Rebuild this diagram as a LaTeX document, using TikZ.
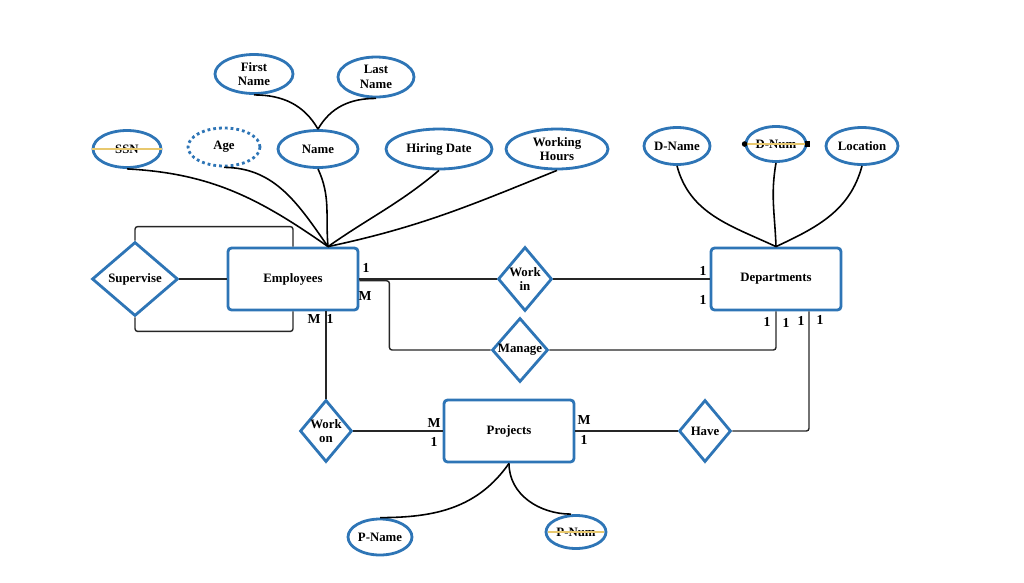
\documentclass[tikz,border=0pt]{standalone}
\usepackage{fontspec}
\setmainfont{Liberation Serif}
\usepackage{tikz}
\usetikzlibrary{shapes.geometric}

\definecolor{erblue}{RGB}{46,117,182}
\definecolor{keyline}{RGB}{232,200,110}
\newcommand{\erfont}{\bfseries\fontsize{7.3}{8.3}\selectfont}

\tikzset{
    attr/.style 2 args={ellipse, draw=erblue, line width=1.6pt, inner sep=0pt,
        minimum width=#1, minimum height=#2, align=center, font=\erfont},
    entity/.style={rectangle, draw=erblue, line width=1.6pt, rounded corners=2pt,
        minimum width=2.6cm, minimum height=1.24cm, font=\erfont},
    rel/.style 2 args={diamond, draw=erblue, line width=1.6pt, inner sep=0pt,
        minimum width=#1, minimum height=#2},
    rellabel/.style={align=center, font=\erfont, inner sep=0pt},
    card/.style={font=\erfont\fontsize{7.8}{9}\selectfont, inner sep=0pt},
    link/.style={draw=black!85, line width=0.8pt, rounded corners=1.5pt},
    attrlink/.style={draw=black, line width=0.9pt},
    keystrike/.style={draw=keyline, line width=0.9pt},
}

\begin{document}
\begin{tikzpicture}[x=0.02cm, y=-0.02cm]
    \useasboundingbox (0,0) rectangle (1024,582);

    % entities
    \node[entity] (emp) at (293, 279) {Employees};
    \node[entity] (dept) at (776, 279) {Departments};
    \node[entity] (proj) at (509, 431) {Projects};

    % relationships
    \node[rel={1.72cm}{1.48cm}, label={[rellabel]center:Supervise}] (sup) at (135, 279) {};
    \node[rel={1.08cm}{1.28cm}, label={[rellabel]center:Work\\in}] (workin) at (525, 279) {};
    \node[rel={1.12cm}{1.28cm}, label={[rellabel]center:Manage}] (manage) at (520, 350) {};
    \node[rel={1.04cm}{1.24cm}, label={[rellabel]center:Work\\on}] (workon) at (326, 431) {};
    \node[rel={1.04cm}{1.24cm}, label={[rellabel]center:Have}] (have) at (705, 431) {};

    % attributes of Employees
    \node[attr={1.56cm}{0.78cm}] (fname) at (254, 74) {First\\Name};
    \node[attr={1.52cm}{0.8cm}] (lname) at (376, 77) {Last\\Name};
    \node[attr={1.36cm}{0.74cm}] (ssn) at (127, 149) {SSN};
    \node[attr={1.44cm}{0.76cm}, draw=none] (age) at (224, 147) {Age};
    \node[attr={1.6cm}{0.74cm}] (name) at (318, 149) {Name};
    \node[attr={2.12cm}{0.8cm}] (hdate) at (439, 149) {Hiring Date};
    \node[attr={2.04cm}{0.8cm}] (whours) at (557, 149) {Working\\Hours};
    \draw[erblue, line width=1.6pt, dash pattern=on 1.6pt off 1.7pt]
        (age.center) ellipse [x radius=0.72cm, y radius=0.38cm];

    % attributes of Departments
    \node[attr={1.32cm}{0.74cm}] (dname) at (677, 146) {D-Name};
    \node[attr={1.2cm}{0.7cm}] (dnum) at (776, 144) {D-Num};
    \node[attr={1.44cm}{0.74cm}] (loc) at (862, 146) {Location};

    % attributes of Projects
    \node[attr={1.28cm}{0.72cm}] (pname) at (380, 537) {P-Name};
    \node[attr={1.2cm}{0.66cm}] (pnum) at (576, 532) {P-Num};

    % key marks
    \draw[keystrike] (ssn.west) -- (ssn.east);
    \draw[keystrike] (dnum.west) -- (dnum.east);
    \fill[black] (dnum.west) circle (1.6pt);
    \fill[black] ([xshift=-1.5pt, yshift=-1.5pt]dnum.east) rectangle ++(3pt, 3pt);
    \draw[keystrike] ([xshift=2pt]pnum.west) -- ([xshift=-2pt]pnum.east);

    % attribute links
    \coordinate (emptop) at ([xshift=0.7cm]emp.north);
    \draw[attrlink] (ssn.south) to[out=-3, in=145] (emptop);
    \draw[attrlink] (age.south) to[out=0, in=125] (emptop);
    \draw[attrlink] (name.south) to[out=-65, in=95] (emptop);
    \draw[attrlink] (hdate.south) to[out=-140, in=35] (emptop);
    \draw[attrlink] (whours.south) to[out=-158, in=12] (emptop);
    \draw[attrlink] (fname.south) to[out=0, in=120] (name.north);
    \draw[attrlink] (lname.south) to[out=180, in=60] (name.north);
    \draw[attrlink] (dname.south) to[out=-75, in=155] (dept.north);
    \draw[attrlink] (dnum.south) to[out=-100, in=92] (dept.north);
    \draw[attrlink] (loc.south) to[out=-105, in=25] (dept.north);
    \draw[attrlink] (proj.south) to[out=-125, in=0] (pname.north);
    \draw[attrlink] (proj.south) to[out=-90, in=180] ([xshift=-0.1cm]pnum.north);

    % relationship links
    \draw[link] (sup.north) |- ([yshift=0.4cm]emp.north) -- (emp.north);
    \draw[link] (sup.south) |- ([yshift=-0.4cm]emp.south) -- (emp.south);
    \draw[link] (sup.east) -- (emp.west);
    \draw[link] (emp.east) -- (workin.west);
    \draw[link] (workin.east) -- (dept.west);
    \draw[link] ([yshift=-1pt]emp.east) -- ++(30, 0) |- (manage.west);
    \draw[link] (manage.east) -| (dept.south);
    \draw[link] (workon.north) -- (workon.north |- emp.south);
    \draw[link] (workon.east) -- (proj.west);
    \draw[link] (proj.east) -- (have.west);
    \draw[link] (have.east) -| ([xshift=0.66cm]dept.south);

    % cardinalities
    \foreach \t/\x/\y [count=\i] in {1/366/268, M/365/296, 1/703/271, 1/703/300,
        1/767/322, 1/786/323, 1/801/321, 1/820/320, M/314/319, 1/330/319,
        M/434/423, 1/434/442, M/584/420, 1/584/440}
        \node[card] (card\i) at (\x, \y) {\t};
\end{tikzpicture}
\end{document}
